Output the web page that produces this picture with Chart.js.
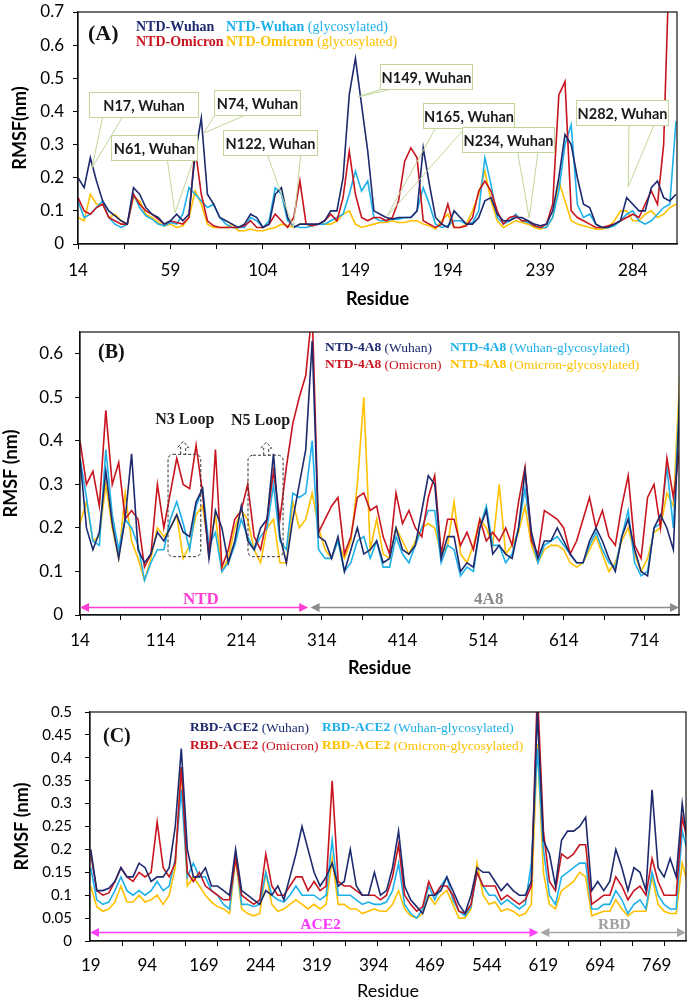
<!DOCTYPE html>
<html>
<head>
<meta charset="utf-8">
<script src="https://cdn.jsdelivr.net/npm/chart.js@4.4.1/dist/chart.umd.min.js"></script>
<style>
    body { margin: 0; background: #fff; }
    #wrap { position: relative; width: 688px; height: 1000px; }
    #wrap canvas { position: absolute; left: 0; top: 0; }
</style>
</head>
<body>
<div id="wrap">
    <canvas id="chart-a" width="688" height="1000"></canvas>
    <canvas id="chart-b" width="688" height="1000"></canvas>
    <canvas id="chart-c" width="688" height="1000"></canvas>
</div>
<script>
// residue numbers of the sampled points (one every few residues)
function buildResidues(start, step, count) {
    const out = [];
    for (let i = 0; i < count; i++) out.push(start + i * step);
    return out;
}

// ---------- (A) NTD, residues 14-305 ----------
const residueA = buildResidues(14, 3, 98);
const ntdWuhanA = [
    0.20, 0.17, 0.26, 0.19, 0.13, 0.10, 0.085, 0.07, 0.06, 0.17,
    0.15, 0.11, 0.09, 0.08, 0.06, 0.07, 0.09, 0.07, 0.09, 0.27,
    0.38, 0.15, 0.12, 0.08, 0.07, 0.06, 0.05, 0.06, 0.09, 0.08,
    0.05, 0.06, 0.15, 0.17, 0.08, 0.05, 0.06, 0.06, 0.06, 0.06,
    0.07, 0.10, 0.10, 0.20, 0.45, 0.56, 0.42, 0.28, 0.10, 0.09,
    0.08, 0.075, 0.08, 0.08, 0.08, 0.10, 0.29, 0.18, 0.08, 0.06,
    0.05, 0.10, 0.08, 0.06, 0.06, 0.08, 0.13, 0.14, 0.09, 0.07,
    0.07, 0.08, 0.08, 0.07, 0.06, 0.055, 0.06, 0.10, 0.20, 0.33,
    0.30, 0.20, 0.12, 0.11, 0.06, 0.05, 0.05, 0.06, 0.07, 0.14,
    0.12, 0.10, 0.10, 0.17, 0.19, 0.14, 0.13, 0.15
];
const ntdOmicronA = [
    0.14, 0.10, 0.09, 0.11, 0.12, 0.08, 0.07, 0.06, 0.06, 0.15,
    0.12, 0.10, 0.09, 0.075, 0.06, 0.07, 0.065, 0.06, 0.08, 0.29,
    0.15, 0.07, 0.055, 0.05, 0.05, 0.05, 0.05, 0.055, 0.07, 0.05,
    0.05, 0.06, 0.09, 0.07, 0.05, 0.08, 0.19, 0.06, 0.055, 0.06,
    0.07, 0.09, 0.07, 0.14, 0.28, 0.15, 0.08, 0.07, 0.08, 0.08,
    0.07, 0.08, 0.13, 0.25, 0.29, 0.26, 0.07, 0.06, 0.05, 0.06,
    0.12, 0.05, 0.05, 0.055, 0.08, 0.16, 0.19, 0.16, 0.10, 0.06,
    0.08, 0.085, 0.07, 0.07, 0.055, 0.05, 0.06, 0.12, 0.45, 0.49,
    0.10, 0.08, 0.07, 0.06, 0.05, 0.05, 0.055, 0.06, 0.07, 0.08,
    0.09, 0.08, 0.12, 0.16, 0.12, 0.30, 0.90, 1.00
];
const ntdWuhanGlyA = [
    0.13, 0.08, 0.09, 0.11, 0.13, 0.08, 0.06, 0.05, 0.06, 0.15,
    0.11, 0.085, 0.075, 0.06, 0.055, 0.065, 0.06, 0.09, 0.17, 0.15,
    0.13, 0.11, 0.12, 0.08, 0.06, 0.05, 0.05, 0.05, 0.08, 0.07,
    0.05, 0.07, 0.17, 0.15, 0.07, 0.055, 0.05, 0.05, 0.055, 0.06,
    0.06, 0.07, 0.08, 0.09, 0.15, 0.22, 0.16, 0.19, 0.08, 0.07,
    0.07, 0.075, 0.075, 0.08, 0.08, 0.10, 0.17, 0.12, 0.06, 0.05,
    0.055, 0.07, 0.07, 0.06, 0.065, 0.10, 0.26, 0.18, 0.08, 0.06,
    0.07, 0.09, 0.07, 0.065, 0.055, 0.05, 0.05, 0.08, 0.16, 0.30,
    0.36, 0.12, 0.08, 0.09, 0.06, 0.05, 0.05, 0.055, 0.07, 0.09,
    0.10, 0.07, 0.06, 0.07, 0.09, 0.11, 0.12, 0.37
];
const ntdOmicronGlyA = [
    0.08, 0.07, 0.15, 0.12, 0.12, 0.08, 0.09, 0.07, 0.06, 0.14,
    0.13, 0.09, 0.08, 0.065, 0.055, 0.06, 0.05, 0.055, 0.08, 0.16,
    0.12, 0.06, 0.05, 0.05, 0.05, 0.06, 0.04, 0.04, 0.045, 0.04,
    0.04, 0.045, 0.05, 0.06, 0.055, 0.05, 0.06, 0.06, 0.055, 0.06,
    0.06, 0.06, 0.07, 0.09, 0.10, 0.06, 0.05, 0.055, 0.06, 0.065,
    0.065, 0.07, 0.065, 0.065, 0.07, 0.07, 0.06, 0.055, 0.045, 0.07,
    0.09, 0.05, 0.05, 0.06, 0.10, 0.15, 0.22, 0.13, 0.07, 0.05,
    0.06, 0.07, 0.065, 0.06, 0.05, 0.045, 0.05, 0.08, 0.19, 0.13,
    0.07, 0.06, 0.055, 0.05, 0.045, 0.045, 0.05, 0.07, 0.10, 0.10,
    0.07, 0.07, 0.09, 0.10, 0.08, 0.09, 0.11, 0.12
];
const xLabelsA = [14, 59, 104, 149, 194, 239, 284];
const yTicksA = [0, 0.1, 0.2, 0.3, 0.4, 0.5, 0.6, 0.7];

// ---------- (B) NTD-4A8, residues 14-757 ----------
const residueB = buildResidues(14, 8, 94);
const wuhanB = [
    0.36, 0.20, 0.15, 0.19, 0.33, 0.21, 0.13, 0.22, 0.37, 0.15,
    0.12, 0.14, 0.19, 0.17, 0.20, 0.23, 0.19, 0.18, 0.26, 0.29,
    0.13, 0.24, 0.20, 0.12, 0.17, 0.25, 0.17, 0.15, 0.20, 0.22,
    0.37, 0.18, 0.12, 0.22,
    0.30, 0.38, 0.63, 0.18, 0.17, 0.13, 0.18, 0.10, 0.15, 0.20,
    0.14, 0.15, 0.17, 0.12, 0.13, 0.20, 0.15, 0.14, 0.16, 0.24,
    0.32, 0.30, 0.13, 0.18, 0.18, 0.10, 0.12, 0.11, 0.20, 0.24,
    0.14, 0.16, 0.14, 0.13, 0.20, 0.33, 0.19, 0.13, 0.17, 0.17,
    0.20, 0.17, 0.14, 0.12, 0.12, 0.17, 0.20, 0.17, 0.13, 0.10,
    0.18, 0.22, 0.15, 0.10, 0.09, 0.20, 0.23, 0.20, 0.15, 0.50
];
const omicronB = [
    0.40, 0.30, 0.33, 0.25, 0.47, 0.30, 0.35, 0.22, 0.24, 0.22,
    0.11, 0.14, 0.30, 0.20, 0.28, 0.36, 0.30, 0.29, 0.39, 0.28,
    0.13, 0.38, 0.11, 0.15, 0.22, 0.24, 0.30, 0.18, 0.15, 0.22,
    0.33, 0.22, 0.34, 0.44,
    0.50, 0.55, 0.70, 0.19, 0.22, 0.25, 0.27, 0.14, 0.18, 0.27,
    0.28, 0.24, 0.25, 0.18, 0.14, 0.28, 0.21, 0.24, 0.20, 0.18,
    0.27, 0.32, 0.14, 0.22, 0.22, 0.16, 0.19, 0.15, 0.22, 0.17,
    0.19, 0.17, 0.20, 0.16, 0.26, 0.34, 0.17, 0.14, 0.24, 0.23,
    0.22, 0.20, 0.14, 0.17, 0.22, 0.27, 0.20, 0.24, 0.18, 0.16,
    0.25, 0.32, 0.16, 0.13, 0.27, 0.30, 0.20, 0.36, 0.27, 0.38
];
const wuhanGlyB = [
    0.36, 0.27, 0.17, 0.16, 0.38, 0.23, 0.15, 0.22, 0.20, 0.16,
    0.08, 0.12, 0.15, 0.15, 0.22, 0.26, 0.21, 0.15, 0.25, 0.29,
    0.16, 0.19, 0.10, 0.12, 0.16, 0.22, 0.18, 0.15, 0.18, 0.20,
    0.30, 0.17, 0.15, 0.28,
    0.27, 0.28, 0.40, 0.15, 0.13, 0.13, 0.17, 0.10, 0.12, 0.17,
    0.18, 0.13, 0.17, 0.11, 0.11, 0.18, 0.14, 0.12, 0.16, 0.20,
    0.24, 0.24, 0.12, 0.16, 0.15, 0.09, 0.11, 0.10, 0.20, 0.25,
    0.16, 0.16, 0.12, 0.14, 0.20, 0.29, 0.18, 0.12, 0.16, 0.17,
    0.18, 0.16, 0.14, 0.12, 0.12, 0.16, 0.19, 0.15, 0.12, 0.11,
    0.18, 0.24, 0.12, 0.09, 0.10, 0.20, 0.21, 0.34, 0.20, 0.51
];
const omicronGlyB = [
    0.21, 0.26, 0.17, 0.18, 0.30, 0.20, 0.13, 0.28, 0.17, 0.13,
    0.08, 0.13, 0.20, 0.18, 0.20, 0.23, 0.13, 0.16, 0.23, 0.25,
    0.15, 0.23, 0.10, 0.13, 0.20, 0.24, 0.22, 0.15, 0.12, 0.20,
    0.22, 0.12, 0.12, 0.26,
    0.20, 0.22, 0.28, 0.20, 0.15, 0.13, 0.17, 0.13, 0.17, 0.30,
    0.50, 0.15, 0.22, 0.14, 0.13, 0.20, 0.17, 0.14, 0.17, 0.20,
    0.21, 0.20, 0.14, 0.16, 0.26, 0.14, 0.12, 0.16, 0.22, 0.20,
    0.16, 0.30, 0.14, 0.16, 0.19, 0.25, 0.16, 0.12, 0.15, 0.16,
    0.16, 0.15, 0.12, 0.11, 0.12, 0.15, 0.18, 0.14, 0.10, 0.12,
    0.17, 0.20, 0.14, 0.10, 0.13, 0.19, 0.20, 0.28, 0.25, 0.55
];
const xLabelsB = [14, 114, 214, 314, 414, 514, 614, 714];
const yTicksB = [0, 0.1, 0.2, 0.3, 0.4, 0.5, 0.6];

// ---------- (C) RBD-ACE2, residues 19-808 ----------
const residueC = buildResidues(19, 8, 100);
const wuhanC = [
    0.20, 0.11, 0.11, 0.115, 0.13, 0.16, 0.14, 0.14, 0.17, 0.16,
    0.13, 0.14, 0.14, 0.16, 0.25, 0.42, 0.20, 0.14, 0.14, 0.16,
    0.12, 0.12, 0.11, 0.10, 0.20, 0.11, 0.10, 0.09, 0.08, 0.11,
    0.10, 0.12, 0.09,
    0.14, 0.19, 0.25, 0.20, 0.15, 0.12, 0.14, 0.17, 0.12, 0.13,
    0.20, 0.12, 0.10, 0.10, 0.15, 0.10, 0.11, 0.16, 0.24, 0.12,
    0.09, 0.075, 0.06, 0.10, 0.10, 0.11, 0.14, 0.11, 0.08, 0.06,
    0.10, 0.16, 0.15,
    0.15, 0.13, 0.11, 0.125, 0.11, 0.10, 0.10, 0.13, 0.50, 0.22,
    0.19, 0.12, 0.22, 0.24, 0.24, 0.25, 0.27, 0.11, 0.13, 0.11,
    0.13, 0.20, 0.16, 0.11, 0.16, 0.15, 0.11, 0.33, 0.16, 0.14,
    0.18, 0.14, 0.30, 0.20
];
const omicronC = [
    0.19, 0.11, 0.10, 0.105, 0.13, 0.16, 0.14, 0.13, 0.15, 0.14,
    0.15, 0.26, 0.16, 0.14, 0.17, 0.38, 0.15, 0.13, 0.15, 0.12,
    0.11, 0.10, 0.09, 0.09, 0.18, 0.10, 0.09, 0.08, 0.09, 0.19,
    0.12, 0.10, 0.10,
    0.12, 0.14, 0.14, 0.11, 0.13, 0.11, 0.12, 0.35, 0.13, 0.12,
    0.12, 0.11, 0.10, 0.10, 0.10, 0.09, 0.10, 0.14, 0.21, 0.10,
    0.08, 0.065, 0.075, 0.13, 0.10, 0.12, 0.12, 0.10, 0.065, 0.06,
    0.08, 0.15, 0.12,
    0.12, 0.12, 0.09, 0.10, 0.09, 0.08, 0.09, 0.12, 0.55, 0.24,
    0.13, 0.11, 0.19, 0.18, 0.19, 0.21, 0.21, 0.08, 0.09, 0.10,
    0.10, 0.14, 0.12, 0.09, 0.11, 0.12, 0.10, 0.18, 0.13, 0.10,
    0.10, 0.10, 0.27, 0.21
];
const wuhanGlyC = [
    0.16, 0.09, 0.08, 0.085, 0.11, 0.14, 0.11, 0.10, 0.11, 0.10,
    0.11, 0.13, 0.11, 0.12, 0.18, 0.33, 0.14, 0.17, 0.14, 0.14,
    0.11, 0.10, 0.08, 0.07, 0.19, 0.08, 0.08, 0.075, 0.08, 0.15,
    0.10, 0.09, 0.085,
    0.10, 0.12, 0.10, 0.10, 0.10, 0.09, 0.10, 0.22, 0.10, 0.10,
    0.10, 0.09, 0.08, 0.085, 0.08, 0.08, 0.085, 0.11, 0.17, 0.08,
    0.06, 0.05, 0.07, 0.12, 0.09, 0.12, 0.14, 0.09, 0.065, 0.055,
    0.075, 0.15, 0.12,
    0.10, 0.10, 0.08, 0.09, 0.08, 0.07, 0.08, 0.17, 0.42, 0.20,
    0.10, 0.08, 0.14, 0.15, 0.16, 0.17, 0.17, 0.07, 0.07, 0.08,
    0.08, 0.11, 0.09, 0.06, 0.08, 0.09, 0.07, 0.15, 0.10, 0.08,
    0.07, 0.07, 0.24, 0.19
];
const omicronGlyC = [
    0.12, 0.075, 0.065, 0.07, 0.085, 0.12, 0.085, 0.085, 0.10, 0.085,
    0.09, 0.10, 0.08, 0.10, 0.16, 0.38, 0.12, 0.14, 0.12, 0.10,
    0.085, 0.075, 0.07, 0.06, 0.18, 0.07, 0.06, 0.055, 0.06, 0.15,
    0.08, 0.065, 0.07,
    0.08, 0.09, 0.08, 0.07, 0.08, 0.07, 0.08, 0.18, 0.08, 0.08,
    0.07, 0.07, 0.06, 0.065, 0.07, 0.065, 0.065, 0.08, 0.11, 0.07,
    0.055, 0.05, 0.06, 0.10, 0.08, 0.10, 0.11, 0.08, 0.05, 0.05,
    0.07, 0.17, 0.10,
    0.08, 0.085, 0.065, 0.07, 0.065, 0.055, 0.06, 0.08, 0.43, 0.15,
    0.08, 0.07, 0.11, 0.12, 0.13, 0.15, 0.14, 0.055, 0.06, 0.065,
    0.065, 0.09, 0.07, 0.055, 0.065, 0.065, 0.065, 0.14, 0.08, 0.065,
    0.06, 0.06, 0.17, 0.12
];
const xLabelsC = [19, 94, 169, 244, 319, 394, 469, 544, 619, 694, 769];
const yTicksC = [0, 0.05, 0.1, 0.15, 0.2, 0.25, 0.3, 0.35, 0.4, 0.45, 0.5];

// colores de las series
const navy = '#1d2a6e';
const sky = '#1eb0ea';
const crimson = '#c8141e';
const gold = '#ffc000';
const pink = '#ff3fd4';

const sansFont = 'Lato, "Liberation Sans", sans-serif';
const serifFont = '"Liberation Serif", "Times New Roman", serif';

// ---------- drawing helpers ----------
function drawRuns(ctx, group) {
    let x = group.x;
    ctx.textAlign = 'left';
    ctx.textBaseline = 'middle';
    group.runs.forEach(r => {
        ctx.font = (r.bold ? 'bold ' : '') + group.size + 'px ' + serifFont;
        ctx.fillStyle = r.color;
        ctx.fillText(r.t, x, group.y);
        x += ctx.measureText(r.t).width;
    });
}

function drawSpan(ctx, xs, ys, s) {
    const x1 = xs.getPixelForValue(s.from);
    const x2 = xs.getPixelForValue(s.to);
    const y = Math.round(ys.getPixelForValue(s.at)) + 0.5;
    ctx.strokeStyle = s.color;
    ctx.fillStyle = s.color;
    ctx.lineWidth = 1.5;
    ctx.beginPath();
    ctx.moveTo(x1 + 6, y);
    ctx.lineTo(x2 - 6, y);
    ctx.stroke();
    [[x1, 1], [x2, -1]].forEach(([px, dir]) => {
        ctx.beginPath();
        ctx.moveTo(px, y);
        ctx.lineTo(px + dir * 9, y - 4.5);
        ctx.lineTo(px + dir * 9, y + 4.5);
        ctx.closePath();
        ctx.fill();
    });
    ctx.font = 'bold ' + s.size + 'px ' + serifFont;
    ctx.textAlign = 'center';
    ctx.textBaseline = 'middle';
    ctx.fillStyle = s.textColor;
    ctx.fillText(s.label, xs.getPixelForValue(s.labelAt[0]), ys.getPixelForValue(s.labelAt[1]));
}

function drawCallout(ctx, xs, ys, c) {
    ctx.font = 'bold 14.5px ' + sansFont;
    const w = c.w;
    const h = 25;
    const cx = xs.getPixelForValue(c.at[0]);
    const cy = ys.getPixelForValue(c.at[1]);
    const left = Math.round(cx - w / 2) + 0.5;
    const top = Math.round(cy - h / 2) + 0.5;
    const tx = xs.getPixelForValue(c.tip[0]);
    const ty = ys.getPixelForValue(c.tip[1]);
    ctx.strokeStyle = '#c2d69b';
    ctx.lineWidth = 1;
    c.from.forEach(f => {
        ctx.beginPath();
        ctx.moveTo(left + f * w, top + h);
        ctx.lineTo(tx, ty);
        ctx.stroke();
    });
    ctx.fillStyle = '#fff';
    ctx.fillRect(left, top, w, h);
    ctx.strokeRect(left, top, w, h);
    ctx.fillStyle = '#1a1a1a';
    ctx.textAlign = 'center';
    ctx.textBaseline = 'middle';
    ctx.fillText(c.text, left + w / 2, top + h / 2 + 1);
}

function roundRect(ctx, x, y, w, h, r) {
    ctx.beginPath();
    ctx.moveTo(x + r, y);
    ctx.arcTo(x + w, y, x + w, y + h, r);
    ctx.arcTo(x + w, y + h, x, y + h, r);
    ctx.arcTo(x, y + h, x, y, r);
    ctx.arcTo(x, y, x + w, y, r);
    ctx.closePath();
}

function drawLoop(ctx, xs, ys, l) {
    const x1 = xs.getPixelForValue(l.res[0]);
    const x2 = xs.getPixelForValue(l.res[1]);
    const y1 = ys.getPixelForValue(l.val[1]);
    const y2 = ys.getPixelForValue(l.val[0]);
    ctx.strokeStyle = '#333';
    ctx.lineWidth = 1;
    ctx.setLineDash([3, 2]);
    roundRect(ctx, x1, y1, x2 - x1, y2 - y1, 5);
    ctx.stroke();
    // flecha hueca hacia arriba
    const ax = xs.getPixelForValue(l.arrowAt);
    const top = y1 - 13;
    ctx.beginPath();
    ctx.moveTo(ax - 2.5, y1);
    ctx.lineTo(ax - 2.5, top + 6);
    ctx.lineTo(ax - 5.5, top + 6);
    ctx.lineTo(ax, top);
    ctx.lineTo(ax + 5.5, top + 6);
    ctx.lineTo(ax + 2.5, top + 6);
    ctx.lineTo(ax + 2.5, y1);
    ctx.stroke();
    ctx.setLineDash([]);
    ctx.font = 'bold 16px ' + serifFont;
    ctx.fillStyle = '#1a1a1a';
    ctx.textAlign = 'center';
    ctx.textBaseline = 'middle';
    ctx.fillText(l.label, xs.getPixelForValue(l.labelAt[0]), ys.getPixelForValue(l.labelAt[1]));
}

function makeDecor(spec) {
    return {
        id: 'decor',
        afterDatasetsDraw(chart) {
            const { ctx, chartArea: a, scales } = chart;
            ctx.save();
            ctx.strokeStyle = '#111';
            ctx.lineWidth = 1.2;
            ctx.strokeRect(a.left, a.top, a.right - a.left, a.bottom - a.top);
            (spec.spans || []).forEach(s => drawSpan(ctx, scales.x, scales.y, s));
            (spec.loops || []).forEach(l => drawLoop(ctx, scales.x, scales.y, l));
            (spec.callouts || []).forEach(c => drawCallout(ctx, scales.x, scales.y, c));
            (spec.legend || []).forEach(g => drawRuns(ctx, g));
            ctx.restore();
        }
    };
}

function makePanel(id, cfg) {
    const datasets = cfg.series.map(s => ({
        label: s.label,
        data: cfg.residues.map((r, i) => ({ x: r, y: s.values[i] })),
        borderColor: s.color,
        borderWidth: 1.6,
        pointRadius: 0,
        tension: 0,
        fill: false,
    }));
    const tickValues = Array.from(new Set(cfg.xMarks.concat(cfg.xLabels))).sort((a, b) => a - b);
    return new Chart(document.getElementById(id), {
        type: 'line',
        data: { datasets: datasets },
        options: {
            responsive: false,
            animation: false,
            layout: {
                padding: { left: 0, top: cfg.area.top, right: 688 - cfg.area.right, bottom: 1000 - cfg.axisBottom }
            },
            plugins: {
                legend: { display: false },
                tooltip: { enabled: false },
            },
            scales: {
                x: {
                    type: 'linear',
                    min: cfg.xMin,
                    max: cfg.xMax,
                    afterBuildTicks: s => { s.ticks = tickValues.map(v => ({ value: v })); },
                    afterFit: s => {
                        s.height = cfg.axisBottom - cfg.area.bottom;
                        s.paddingLeft = 0;
                        s.paddingRight = 0;
                    },
                    ticks: {
                        autoSkip: false,
                        maxRotation: 0,
                        minRotation: 0,
                        padding: cfg.xTickPad,
                        color: '#000',
                        font: { family: sansFont, size: cfg.xTickSize },
                        callback: v => cfg.xLabels.includes(v) ? String(v) : ''
                    },
                    grid: {
                        drawOnChartArea: false,
                        tickLength: 5,
                        color: '#000',
                        tickColor: c => (c.tick && cfg.xMarks.includes(c.tick.value)) ? '#000' : 'rgba(0,0,0,0)'
                    },
                    border: { color: '#111', width: 1.2 },
                    title: {
                        display: true,
                        text: 'Residue',
                        color: '#000',
                        font: { family: sansFont, size: 18, weight: cfg.xTitleWeight, lineHeight: 1 },
                        padding: { top: 0, bottom: cfg.xTitlePad }
                    }
                },
                y: {
                    min: 0,
                    max: cfg.yMax,
                    afterBuildTicks: s => { s.ticks = cfg.yTicks.map(v => ({ value: v })); },
                    afterFit: s => {
                        s.width = cfg.area.left;
                        s.paddingTop = 0;
                        s.paddingBottom = 0;
                    },
                    ticks: {
                        padding: cfg.yTickPad,
                        color: '#000',
                        font: { family: sansFont, size: cfg.yTickSize },
                        callback: v => String(v)
                    },
                    grid: { drawOnChartArea: false, tickLength: 5, color: '#000' },
                    border: { color: '#111', width: 1.2 },
                    title: {
                        display: true,
                        text: cfg.yTitle,
                        color: '#000',
                        font: { family: sansFont, size: 18, weight: 'bold', lineHeight: 1 },
                        padding: { top: cfg.yTitlePad, bottom: 0 }
                    }
                }
            }
        },
        plugins: [makeDecor(cfg.decor)]
    });
}

// ---------- panel A ----------
makePanel('chart-a', {
    area: { left: 78, right: 677, top: 12, bottom: 244 },
    axisBottom: 308,
    xMin: 14, xMax: 305.5,
    yMax: 0.7, yTicks: yTicksA,
    xLabels: xLabelsA,
    xMarks: xLabelsA.flatMap(v => [v, v + 22.5]).filter(v => v <= 305.5),
    xTickPad: 11, xTickSize: 17, yTickPad: 9, yTickSize: 17,
    xTitleWeight: 'bold', xTitlePad: 0,
    yTitle: 'RMSF(nm)', yTitlePad: 11,
    residues: residueA,
    series: [
        { label: 'NTD-Wuhan', values: ntdWuhanA, color: navy },
        { label: 'NTD-Omicron', values: ntdOmicronA, color: crimson },
        { label: 'NTD-Wuhan (glycosylated)', values: ntdWuhanGlyA, color: sky },
        { label: 'NTD-Omicron (glycosylated)', values: ntdOmicronGlyA, color: gold },
    ],
    decor: {
        callouts: [
            { text: 'N17, Wuhan', w: 109, at: [46, 0.42], tip: [20.8, 0.23], from: [0.12, 0.3] },
            { text: 'N61, Wuhan', w: 86, at: [51, 0.29], tip: [61.2, 0.094], from: [0.65, 0.95] },
            { text: 'N74, Wuhan', w: 86, at: [101, 0.428], tip: [75.3, 0.335], from: [0.0, 0.35] },
            { text: 'N122, Wuhan', w: 94, at: [107.4, 0.306], tip: [118.8, 0.048], from: [0.47, 0.82] },
            { text: 'N149, Wuhan', w: 92, at: [183.3, 0.506], tip: [150.3, 0.444], from: [0.0, 0.1] },
            { text: 'N165, Wuhan', w: 91, at: [204, 0.387], tip: [164.2, 0.082], from: [0.13, 0.45] },
            { text: 'N234, Wuhan', w: 92, at: [223.4, 0.314], tip: [233.6, 0.078], from: [0.6, 0.82] },
            { text: 'N282, Wuhan', w: 92, at: [278.8, 0.397], tip: [281.8, 0.173], from: [0.57, 0.84] },
        ],
        legend: [
            { x: 88, y: 34, size: 22, runs: [{ t: '(A)', bold: true, color: '#111' }] },
            { x: 136, y: 27, size: 14, runs: [{ t: 'NTD-Wuhan', bold: true, color: navy }] },
            { x: 226, y: 27, size: 14, runs: [{ t: 'NTD-Wuhan', bold: true, color: sky }, { t: ' (glycosylated)', bold: false, color: sky }] },
            { x: 136, y: 42, size: 14, runs: [{ t: 'NTD-Omicron', bold: true, color: crimson }] },
            { x: 226, y: 42, size: 14, runs: [{ t: 'NTD-Omicron', bold: true, color: gold }, { t: ' (glycosylated)', bold: false, color: gold }] },
        ]
    }
});

// ---------- panel B ----------
makePanel('chart-b', {
    area: { left: 80, right: 679, top: 332, bottom: 615 },
    axisBottom: 677,
    xMin: 14, xMax: 757,
    yMax: 0.65, yTicks: yTicksB,
    xLabels: xLabelsB,
    xMarks: xLabelsB.flatMap(v => [v, v + 50]).filter(v => v <= 757),
    xTickPad: 10, xTickSize: 17, yTickPad: 12, yTickSize: 17,
    xTitleWeight: 'bold', xTitlePad: 0,
    yTitle: 'RMSF (nm)', yTitlePad: 2,
    residues: residueB,
    series: [
        { label: 'NTD-4A8 (Wuhan)', values: wuhanB, color: navy },
        { label: 'NTD-4A8 (Omicron)', values: omicronB, color: crimson },
        { label: 'NTD-4A8 (Wuhan-glycosylated)', values: wuhanGlyB, color: sky },
        { label: 'NTD-4A8 (Omicron-glycosylated)', values: omicronGlyB, color: gold },
    ],
    decor: {
        spans: [
            { from: 14, to: 297, at: 0.018, color: pink, label: 'NTD', labelAt: [164, 0.036], textColor: pink, size: 17 },
            { from: 300, to: 757, at: 0.018, color: '#8c8c8c', label: '4A8', labelAt: [521, 0.036], textColor: '#8a8a8a', size: 17 },
        ],
        loops: [
            { label: 'N3 Loop', labelAt: [144, 0.449], res: [123.2, 163.8], val: [0.134, 0.369], arrowAt: 142 },
            { label: 'N5 Loop', labelAt: [238, 0.447], res: [222.4, 265.9], val: [0.134, 0.367], arrowAt: 245 },
        ],
        legend: [
            { x: 98, y: 353, size: 20, runs: [{ t: '(B)', bold: true, color: '#111' }] },
            { x: 325, y: 348, size: 13.5, runs: [{ t: 'NTD-4A8', bold: true, color: navy }, { t: ' (Wuhan)', bold: false, color: navy }] },
            { x: 450, y: 348, size: 13.5, runs: [{ t: 'NTD-4A8', bold: true, color: sky }, { t: ' (Wuhan-glycosylated)', bold: false, color: sky }] },
            { x: 325, y: 365, size: 13.5, runs: [{ t: 'NTD-4A8', bold: true, color: crimson }, { t: ' (Omicron)', bold: false, color: crimson }] },
            { x: 450, y: 365, size: 13.5, runs: [{ t: 'NTD-4A8', bold: true, color: gold }, { t: ' (Omicron-glycosylated)', bold: false, color: gold }] },
        ]
    }
});

// ---------- panel C ----------
makePanel('chart-c', {
    area: { left: 90, right: 686, top: 712, bottom: 941 },
    axisBottom: 1000,
    xMin: 18, xMax: 808,
    yMax: 0.5, yTicks: yTicksC,
    xLabels: xLabelsC,
    xMarks: [60.5, 102.8, 145.1, 187.4, 229.7, 272, 314.3, 356.6, 398.9, 441.2, 483.5, 525.8, 568.1, 610.4, 652.7, 695, 737.3, 779.6],
    xTickPad: 9, xTickSize: 17, yTickPad: 13, yTickSize: 15,
    xTitleWeight: 'normal', xTitlePad: 0,
    yTitle: 'RMSF (nm)', yTitlePad: 13,
    residues: residueC,
    series: [
        { label: 'RBD-ACE2 (Wuhan)', values: wuhanC, color: navy },
        { label: 'RBD-ACE2 (Omicron)', values: omicronC, color: crimson },
        { label: 'RBD-ACE2 (Wuhan-glycosylated)', values: wuhanGlyC, color: sky },
        { label: 'RBD-ACE2 (Omicron-glycosylated)', values: omicronGlyC, color: gold },
    ],
    decor: {
        spans: [
            { from: 18, to: 612.5, at: 0.0186, color: '#ff40ff', label: 'ACE2', labelAt: [323.5, 0.034], textColor: '#ff33ff', size: 15.5 },
            { from: 615, to: 808, at: 0.0186, color: '#a6a6a6', label: 'RBD', labelAt: [713, 0.035], textColor: '#a0a0a0', size: 15.5 },
        ],
        legend: [
            { x: 103, y: 737, size: 20, runs: [{ t: '(C)', bold: true, color: '#111' }] },
            { x: 190, y: 728, size: 13.5, runs: [{ t: 'RBD-ACE2', bold: true, color: navy }, { t: ' (Wuhan)', bold: false, color: navy }] },
            { x: 322, y: 728, size: 13.5, runs: [{ t: 'RBD-ACE2', bold: true, color: sky }, { t: ' (Wuhan-glycosylated)', bold: false, color: sky }] },
            { x: 190, y: 746, size: 13.5, runs: [{ t: 'RBD-ACE2', bold: true, color: crimson }, { t: ' (Omicron)', bold: false, color: crimson }] },
            { x: 322, y: 746, size: 13.5, runs: [{ t: 'RBD-ACE2', bold: true, color: gold }, { t: ' (Omicron-glycosylated)', bold: false, color: gold }] },
        ]
    }
});
</script>
</body>
</html>
